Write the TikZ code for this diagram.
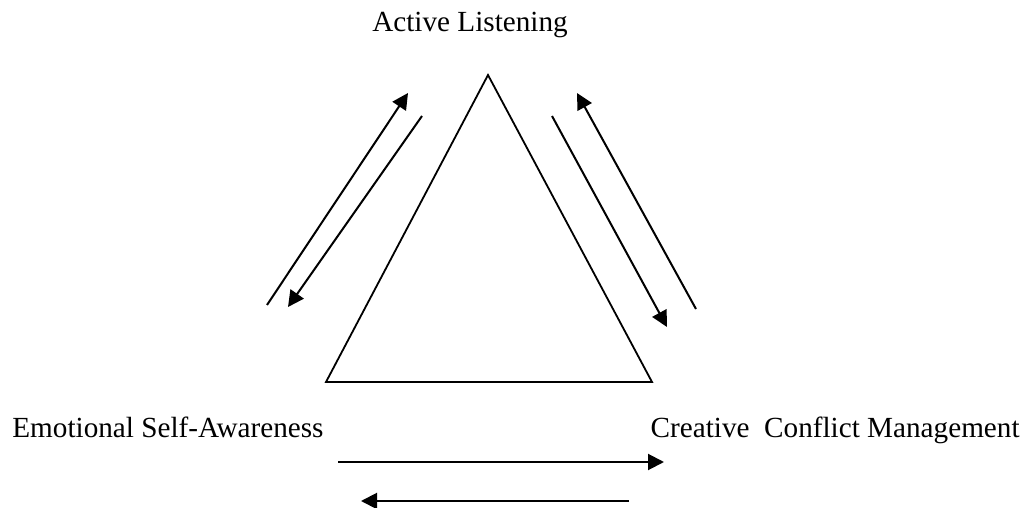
\documentclass[tikz,border=0pt]{standalone}
\usepackage{fontspec}
\setmainfont{Liberation Serif}
\usetikzlibrary{arrows.meta, positioning}
\tikzstyle{arrow} = [line width=1pt, -{Triangle[length=8pt, width=8pt]}]
\tikzstyle{side} = [line width=0.9pt]
\tikzstyle{label} = [font=\fontsize{14.6}{17}\selectfont, inner sep=0pt]

\begin{document}
\begin{tikzpicture}[x=0.5pt, y=-0.5pt]
	\useasboundingbox (0,0) rectangle (1029,508);
	% Labels
	\node (AL) [label, anchor=base] at (470,32) {Active Listening};
	\node (ESA) [label, anchor=base west] at (12,437) {Emotional Self-Awareness};
	\node (CCM) [label, anchor=base east] at (1020,437) {Creative\ \ Conflict Management};

	% Triangle
	\coordinate (Top) at (488,75);
	\coordinate (BL) at (326,382);
	\coordinate (BR) at (652,382);
	\draw [side] (Top) -- (BL) -- (BR) -- cycle;

	% Arrow ends
	\coordinate (L1a) at (267,305);
	\coordinate (L1b) at (408,93);
	\coordinate (L2a) at (422,116);
	\coordinate (L2b) at (288,307);
	\coordinate (R1a) at (696,309);
	\coordinate (R1b) at (577,93);
	\coordinate (R2a) at (552,116);
	\coordinate (R2b) at (667,327);
	\coordinate (B1a) at (338,462);
	\coordinate (B1b) at (664,462);
	\coordinate (B2a) at (629,501);
	\coordinate (B2b) at (361,501);

	% Arrows
	\draw [arrow] (L1a) -- (L1b);
	\draw [arrow] (L2a) -- (L2b);
	\draw [arrow] (R1a) -- (R1b);
	\draw [arrow] (R2a) -- (R2b);
	\draw [arrow] (B1a) -- (B1b);
	\draw [arrow] (B2a) -- (B2b);
\end{tikzpicture}
\end{document}
